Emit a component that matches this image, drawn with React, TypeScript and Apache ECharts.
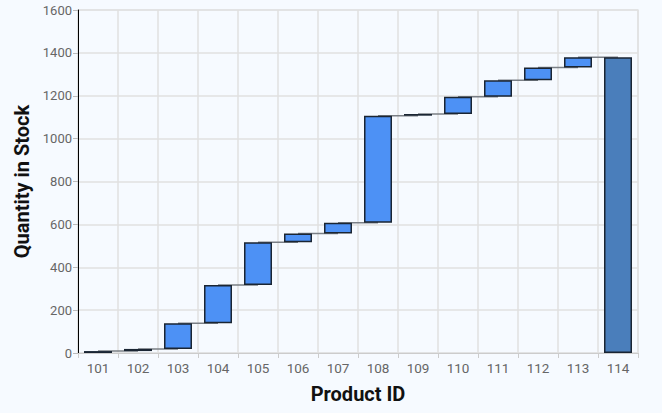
import React, { useEffect, useRef } from "react";
import * as echarts from "echarts";

const productIds = ["101", "102", "103", "104", "105", "106", "107", "108", "109", "110", "111", "112", "113", "114"];
const increments = [9, 10, 120, 178, 200, 40, 50, 500, 8, 80, 77, 60, 48];
const yTicks = [0, 200, 400, 600, 800, 1000, 1200, 1400, 1600];

const BG = "#f6faff";

export default function App() {
  const ref = useRef<HTMLDivElement>(null);
  useEffect(() => {
    document.body.style.margin = "0";
    document.body.style.background = BG;
    if (!ref.current) return;
    const chart = echarts.init(ref.current, undefined, { renderer: "svg" });

    const n = productIds.length;
    const bases: (number | string)[] = [];
    const deltas: any[] = [];
    const cum: number[] = [];
    let run = 0;
    for (let i = 0; i < n - 1; i++) {
      bases.push(run);
      deltas.push({ value: increments[i] });
      run += increments[i];
      cum.push(run);
    }
    const total = run;
    bases.push(0);
    deltas.push({ value: total, itemStyle: { color: "#4a7ebb" } });
    cum.push(total);

    chart.setOption({
      animation: false,
      backgroundColor: BG,
      textStyle: { fontFamily: "Roboto" },
      grid: {
        left: 78,
        right: 24,
        top: 10,
        bottom: 60,
        show: true,
        borderColor: "#e2e5e9",
        borderWidth: 1.5,
        backgroundColor: "transparent",
      },
      xAxis: {
        type: "category",
        data: productIds,
        name: "Product ID",
        nameLocation: "middle",
        nameGap: 31,
        nameTextStyle: { fontSize: 20, fontWeight: "bold", color: "#111", fontFamily: "Roboto" },
        axisLine: { show: true, lineStyle: { color: "#cccccc", width: 1 } },
        axisTick: { show: true, length: 5, lineStyle: { color: "#cccccc" } },
        axisLabel: { color: "#666", fontSize: 13.5, margin: 8, fontFamily: "Roboto" },
        splitLine: { show: true, lineStyle: { color: "#e0e0e0", width: 1.5 } },
      },
      yAxis: {
        type: "value",
        min: yTicks[0],
        max: yTicks[yTicks.length - 1],
        interval: 200,
        name: "Quantity in Stock",
        nameLocation: "middle",
        nameGap: 38,
        nameTextStyle: { fontSize: 20, fontWeight: "bold", color: "#111", fontFamily: "Roboto" },
        axisLine: { show: true, lineStyle: { color: "#000", width: 1 } },
        axisTick: { show: true, length: 5, lineStyle: { color: "#bbbbbb" } },
        axisLabel: {
          color: "#666",
          fontSize: 13,
          margin: 6,
          fontFamily: "Roboto",
          formatter: (v: number) => String(v),
        },
        splitLine: { show: true, lineStyle: { color: "#e0e0e0", width: 1.5 } },
      },
      series: [
        {
          type: "custom",
          z: 1,
          silent: true,
          data: cum.map((v, i) => [i, v]),
          renderItem: (params: any, api: any) => {
            const i = api.value(0);
            if (i >= n - 1) return null;
            const v = api.value(1);
            const p1 = api.coord([i, v]);
            const p2 = api.coord([i + 1, v]);
            return {
              type: "line",
              shape: { x1: p1[0], y1: p1[1], x2: p2[0], y2: p2[1] },
              style: { stroke: "#7a7f85", lineWidth: 1.5 },
            };
          },
        },
        {
          type: "bar",
          stack: "wf",
          z: 2,
          barWidth: "70%",
          itemStyle: { color: "transparent", borderColor: "transparent" },
          emphasis: { disabled: true },
          data: bases,
        },
        {
          type: "bar",
          stack: "wf",
          z: 3,
          barWidth: "70%",
          itemStyle: { color: "#4d91f5", borderColor: "#1a2533", borderWidth: 1.5 },
          data: deltas,
        },
      ],
    });
    return () => chart.dispose();
  }, []);
  return <div ref={ref} style={{ width: 662, height: 413 }} />;
}
